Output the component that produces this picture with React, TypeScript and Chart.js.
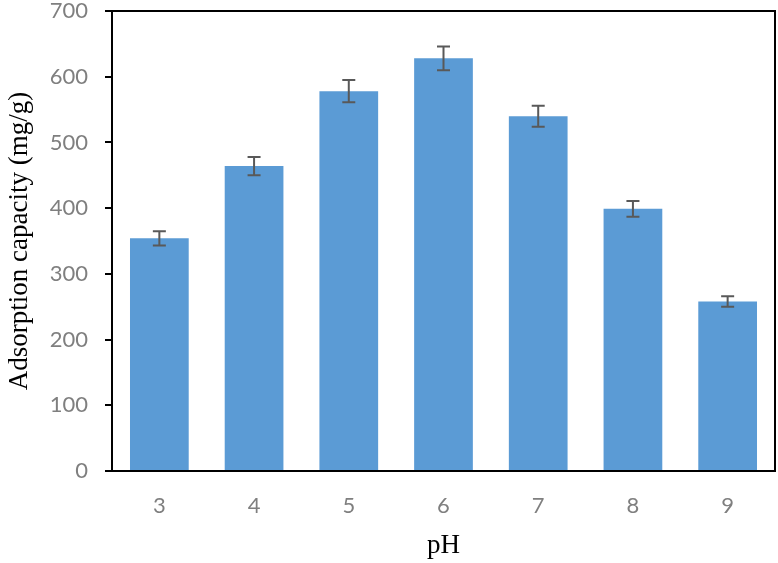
import React, { useEffect, useRef } from "react";
import { Chart, registerables } from "chart.js";

Chart.register(...registerables);

const phLabels = ["3", "4", "5", "6", "7", "8", "9"];
const capacity = [354, 464, 578, 628, 540, 399, 258];
const capacityError = [11, 14, 17, 18, 16, 12, 8];
const yTicks = [0, 100, 200, 300, 400, 500, 600, 700];

const BAR_COLOR = "#5B9BD5";
const ERR_COLOR = "#595959";
const TICK_COLOR = "#7F7F7F";

// Draws the closed frame around the plot area
const framePlugin = {
  id: "plotFrame",
  afterDraw(chart: any) {
    const { ctx, chartArea } = chart;
    ctx.save();
    ctx.strokeStyle = "#000";
    ctx.lineWidth = 2;
    ctx.strokeRect(chartArea.left, chartArea.top, chartArea.right - chartArea.left, chartArea.bottom - chartArea.top);
    ctx.restore();
  },
};

// Vertical error bars with caps, computed from the data arrays
const errorBarPlugin = {
  id: "errorBars",
  afterDatasetsDraw(chart: any) {
    const { ctx } = chart;
    const yScale = chart.scales.y;
    const meta = chart.getDatasetMeta(0);
    ctx.save();
    ctx.strokeStyle = ERR_COLOR;
    ctx.lineWidth = 2;
    meta.data.forEach((bar: any, i: number) => {
      const x = bar.x;
      const yTop = yScale.getPixelForValue(capacity[i] + capacityError[i]);
      const yBot = yScale.getPixelForValue(capacity[i] - capacityError[i]);
      const cap = 6.5;
      ctx.beginPath();
      ctx.moveTo(x, yTop);
      ctx.lineTo(x, yBot);
      ctx.moveTo(x - cap, yTop);
      ctx.lineTo(x + cap, yTop);
      ctx.moveTo(x - cap, yBot);
      ctx.lineTo(x + cap, yBot);
      ctx.stroke();
    });
    ctx.restore();
  },
};

export default function App() {
  const canvasRef = useRef<HTMLCanvasElement | null>(null);

  useEffect(() => {
    document.body.style.margin = "0";
    const canvas = canvasRef.current;
    if (!canvas) return;
    const chart = new Chart(canvas, {
      type: "bar",
      data: {
        labels: phLabels,
        datasets: [
          {
            data: capacity,
            backgroundColor: BAR_COLOR,
            borderWidth: 0,
            categoryPercentage: 1,
            barPercentage: 0.62,
          },
        ],
      },
      plugins: [framePlugin, errorBarPlugin],
      options: {
        responsive: false,
        animation: false,
        devicePixelRatio: 1,
        layout: { padding: { top: 11, right: 3, left: 0, bottom: 0 } },
        plugins: { legend: { display: false }, tooltip: { enabled: false } },
        scales: {
          x: {
            grid: { display: false, drawTicks: false },
            border: { display: true, color: "#000", width: 2 },
            ticks: {
              color: TICK_COLOR,
              font: { family: "Lato", size: 22 },
              padding: 22,
            },
            title: {
              display: true,
              text: "pH",
              color: "#000",
              font: { family: "Liberation Serif", size: 27 },
              padding: { top: 0, bottom: 1 },
            },
            afterFit(scale: any) {
              scale.height = 92;
              scale.paddingLeft = 0;
              scale.paddingRight = 0;
            },
          },
          y: {
            min: 0,
            max: 700,
            afterBuildTicks(scale: any) {
              scale.ticks = yTicks.map((v) => ({ value: v }));
            },
            grid: {
              drawOnChartArea: false,
              drawTicks: true,
              tickLength: 7,
              color: "#000",
              lineWidth: 2,
            },
            border: { display: true, color: "#000", width: 2 },
            ticks: {
              color: TICK_COLOR,
              font: { family: "Lato", size: 22 },
              padding: 17,
            },
            title: {
              display: true,
              text: "Adsorption capacity (mg/g)",
              color: "#000",
              font: { family: "Liberation Serif", size: 27 },
              padding: { top: 4, bottom: 0 },
            },
            afterFit(scale: any) {
              scale.width = 112;
              scale.paddingTop = 0;
              scale.paddingBottom = 0;
            },
          },
        },
      },
    });
    return () => chart.destroy();
  }, []);

  return <canvas ref={canvasRef} width={778} height={563} style={{ display: "block" }} />;
}
